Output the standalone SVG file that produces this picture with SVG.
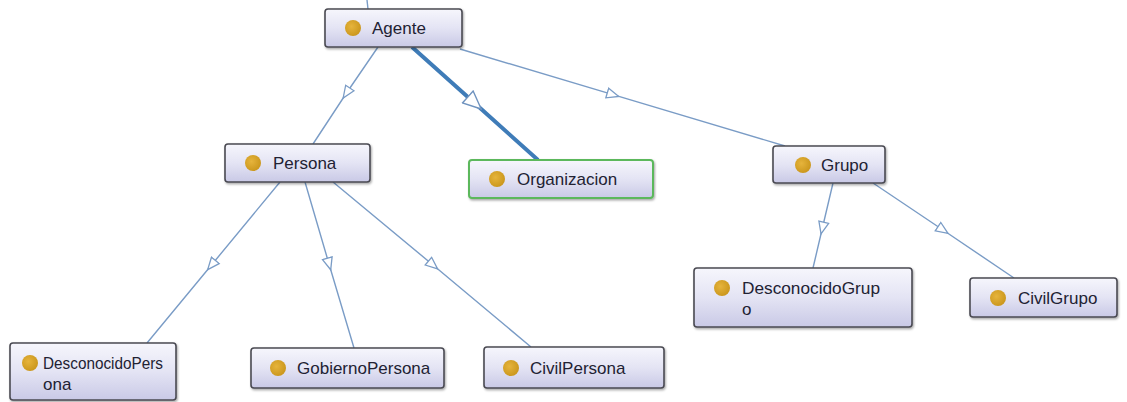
<svg xmlns="http://www.w3.org/2000/svg" width="1127" height="402" viewBox="0 0 1127 402">
  <defs>
    <linearGradient id="nodeFill" x1="0" y1="0" x2="0" y2="1">
      <stop offset="0" stop-color="#f6f6fc"/>
      <stop offset="0.5" stop-color="#e4e4f4"/>
      <stop offset="1" stop-color="#c9c9e6"/>
    </linearGradient>
    <radialGradient id="dot" cx="0.4" cy="0.4" r="0.6">
      <stop offset="0" stop-color="#e6b43c"/>
      <stop offset="1" stop-color="#cc981e"/>
    </radialGradient>
    <filter id="shadow" x="-10%" y="-10%" width="130%" height="140%">
      <feDropShadow dx="1" dy="1.5" stdDeviation="1" flood-color="#000" flood-opacity="0.35"/>
    </filter>
    <marker id="tri" viewBox="0 0 14 12" markerWidth="14" markerHeight="12" refX="7" refY="6" orient="auto" markerUnits="userSpaceOnUse">
      <path d="M1,1 L13,6 L1,11 Z" fill="#ffffff" stroke="#7a9cc6" stroke-width="1.3"/>
    </marker>
    <marker id="triBig" viewBox="0 0 20 18" markerWidth="20" markerHeight="18" refX="10" refY="9" orient="auto" markerUnits="userSpaceOnUse">
      <path d="M1,1 L19,9 L1,17 Z" fill="#ffffff" stroke="#6f93bf" stroke-width="1.4"/>
    </marker>
  </defs>
  <style>
    .edge { fill: none; stroke: #7a9cc6; stroke-width: 1.4; marker-mid: url(#tri); }
    .edge.sel { stroke: #3f7cb8; stroke-width: 4; marker-mid: url(#triBig); }
    .box { fill: url(#nodeFill); stroke: #4a4a52; stroke-width: 1.6; filter: url(#shadow); }
    .box.green { stroke: #5cb85c; stroke-width: 2; }
    .dot { fill: url(#dot); }
    .lbl { font-family: "Liberation Sans", Arial, sans-serif; font-size: 17px; fill: #222233; }
  </style>
  <rect width="1127" height="402" fill="#ffffff"/>

  <g id="connectors">
    <path class="edge" d="M367,0 L368,9" style="marker-mid:none"/>
    <path class="edge" d="M378,47 L346.5,93 L313,144"/>
    <path class="edge sel" d="M412,47 L474.5,103 L538,160"/>
    <path class="edge" d="M460,49 L613,94.7 L785,146"/>
    <path class="edge" d="M280,182 L211.5,265 L147,343"/>
    <path class="edge" d="M305,182 L329,264 L354,348"/>
    <path class="edge" d="M333,182 L433,265 L531,347"/>
    <path class="edge" d="M833,183 L822.4,228 L813,268"/>
    <path class="edge" d="M873,183 L943,230 L1014,278"/>
  </g>

  <g id="agente">
    <rect class="box" x="325" y="9" width="137" height="38" rx="3"/>
    <circle class="dot" cx="353" cy="28" r="8"/>
    <text class="lbl" x="372" y="34">Agente</text>
  </g>
  <g id="persona">
    <rect class="box" x="225" y="144" width="145" height="38" rx="3"/>
    <circle class="dot" cx="253" cy="163" r="8"/>
    <text class="lbl" x="273" y="169">Persona</text>
  </g>
  <g id="organizacion">
    <rect class="box green" x="469" y="160" width="184" height="38" rx="3"/>
    <circle class="dot" cx="497" cy="179" r="8"/>
    <text class="lbl" x="517" y="185">Organizacion</text>
  </g>
  <g id="grupo">
    <rect class="box" x="773" y="146" width="112" height="37" rx="3"/>
    <circle class="dot" cx="803" cy="165" r="8"/>
    <text class="lbl" x="821" y="171">Grupo</text>
  </g>
  <g id="desconocidogrupo">
    <rect class="box" x="694" y="268" width="218" height="59" rx="3"/>
    <circle class="dot" cx="722" cy="288" r="8"/>
    <text class="lbl" x="742" y="294" textLength="138" lengthAdjust="spacingAndGlyphs">DesconocidoGrup</text>
    <text class="lbl" x="742" y="315">o</text>
  </g>
  <g id="civilgrupo">
    <rect class="box" x="970" y="278" width="147" height="39" rx="3"/>
    <circle class="dot" cx="998" cy="298" r="8"/>
    <text class="lbl" x="1018" y="304">CivilGrupo</text>
  </g>
  <g id="desconocidopersona">
    <rect class="box" x="10" y="343" width="166" height="57" rx="3"/>
    <circle class="dot" cx="30" cy="363" r="8"/>
    <text class="lbl" x="43" y="369" textLength="120" lengthAdjust="spacingAndGlyphs">DesconocidoPers</text>
    <text class="lbl" x="43" y="390">ona</text>
  </g>
  <g id="gobiernopersona">
    <rect class="box" x="251" y="348" width="193" height="40" rx="3"/>
    <circle class="dot" cx="278" cy="368" r="8"/>
    <text class="lbl" x="297" y="374">GobiernoPersona</text>
  </g>
  <g id="civilpersona">
    <rect class="box" x="484" y="347" width="180" height="41" rx="3"/>
    <circle class="dot" cx="511" cy="368" r="8"/>
    <text class="lbl" x="530" y="374">CivilPersona</text>
  </g>
</svg>
